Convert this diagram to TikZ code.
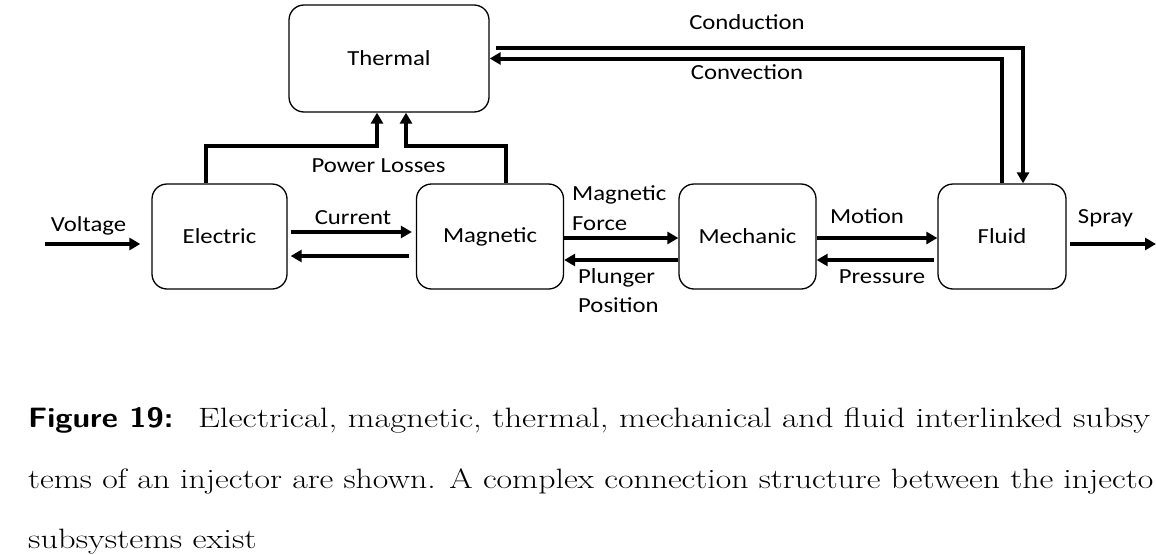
\documentclass[tikz,border=0pt]{standalone}
\usepackage{fontspec}
\newfontfamily\calfont{Carlito}
\usetikzlibrary{arrows.meta}
\newcommand\lbl[1]{\scalebox{1.15}[1]{\calfont\fontsize{21.5}{24}\selectfont #1}}
\newcommand\capt[1]{\scalebox{1.23}[1]{\fontsize{28}{32}\selectfont #1}}
\newcommand\capw[2]{\resizebox{#1}{\height}{\fontsize{28}{32}\selectfont #2}}
\newcommand\capf[1]{\scalebox{1.12}[1]{\fontsize{28}{32}\selectfont #1}}
\begin{document}
\begin{tikzpicture}[x=1pt,y=-1pt,
  box/.style={draw, line width=1.3pt, rounded corners=15pt, inner sep=0pt},
  arr/.style={line width=4pt, -{Triangle[length=11pt,width=12pt]}},
  txt/.style={inner sep=0pt, anchor=base}]
\useasboundingbox (0,0) rectangle (1156,554);
\clip (0,0) rectangle (1156,554);

% boxes
\node[box, minimum width=200pt, minimum height=107pt] (therm) at (389,58.5) {\lbl{Thermal}};
\node[box, minimum width=135pt, minimum height=105pt] (elec) at (219.5,236.5) {\lbl{Electric}};
\node[box, minimum width=147pt, minimum height=105pt] (mag) at (490,236.5) {\lbl{Magnetic}};
\node[box, minimum width=137pt, minimum height=105pt] (mech) at (747.5,236.5) {\lbl{Mechanic}};
\node[box, minimum width=128pt, minimum height=105pt] (fluid) at (1002,236.5) {\lbl{Fluid}};

% free ends and bends
\coordinate (vin) at (45,244);
\coordinate (sout) at (1156,244);
\coordinate (pe) at (206,146);
\coordinate (pt1) at (377,146);
\coordinate (pm) at (506,146);
\coordinate (pt2) at (406,146);
\coordinate (cd) at (1023,48);

% connectors
\draw[arr, shorten >=11pt] (vin) -- ([yshift=-7.5pt]elec.west);
\draw[arr] ([xshift=3pt,yshift=4.5pt]elec.east) -- ([xshift=-4pt,yshift=4.5pt]mag.west);
\draw[arr] ([xshift=-7pt,yshift=-19.5pt]mag.west) -- ([xshift=3pt,yshift=-19.5pt]elec.east);
\draw[arr] ([yshift=-1.5pt]mag.east) -- ([yshift=-1.5pt]mech.west);
\draw[arr] ([yshift=-23.5pt]mech.west) -- ([yshift=-23.5pt]mag.east);
\draw[arr] ([yshift=-1.5pt]mech.east) -- ([yshift=-1.5pt]fluid.west);
\draw[arr] ([xshift=-3pt,yshift=-23.5pt]fluid.west) -- ([yshift=-23.5pt]mech.east);
\draw[arr] ([xshift=3pt,yshift=-7.5pt]fluid.east) -- (sout);
\draw[arr] (elec.north -| pe) -- (pe) -- (pt1) -- (therm.south -| pt1);
\draw[arr] (mag.north -| pm) -- (pm) -- (pt2) -- (therm.south -| pt2);
\draw[arr] ([xshift=6pt,yshift=10.5pt]therm.east) -- (cd) -- (fluid.north -| cd);
\draw[arr] (fluid.north) -- (fluid.north |- therm.east) -- (therm.east);

% labels
\node[txt] (lv) at (88.5,231.7) {\lbl{Voltage}};
\node[txt] (lc) at (353,224) {\lbl{Current}};
\node[txt] (lp) at (378.5,172) {\lbl{Power Losses}};
\node[txt, anchor=base west] (lm1) at (572,200) {\lbl{Magnetic}};
\node[txt, anchor=base west] (lm2) at (572,230) {\lbl{Force}};
\node[txt, anchor=base west] (lpp1) at (578,283) {\lbl{Plunger}};
\node[txt, anchor=base west] (lpp2) at (578,312) {\lbl{Position}};
\node[txt] (lmo) at (867,223) {\lbl{Motion}};
\node[txt] (lpr) at (882,283) {\lbl{Pressure}};
\node[txt] (ls) at (1105.5,223) {\lbl{Spray}};
\node[txt] (lcd) at (747,29) {\lbl{Conduction}};
\node[txt] (lcv) at (747,79) {\lbl{Convection}};

% caption
\node[txt, anchor=base west] (c0) at (28,427) {\capf{\sffamily\bfseries Figure 19:}};
\node[txt, anchor=base west] (c1) at (198,427) {\capw{952pt}{Electrical, magnetic, thermal, mechanical and fluid interlinked subsy}};
\node[txt, anchor=base west] (c2) at (28,488) {\capw{1125pt}{tems of an injector are shown. A complex connection structure between the injecto}};
\node[txt, anchor=base west] (c3) at (28,548) {\capt{subsystems exist}};
\end{tikzpicture}
\end{document}
